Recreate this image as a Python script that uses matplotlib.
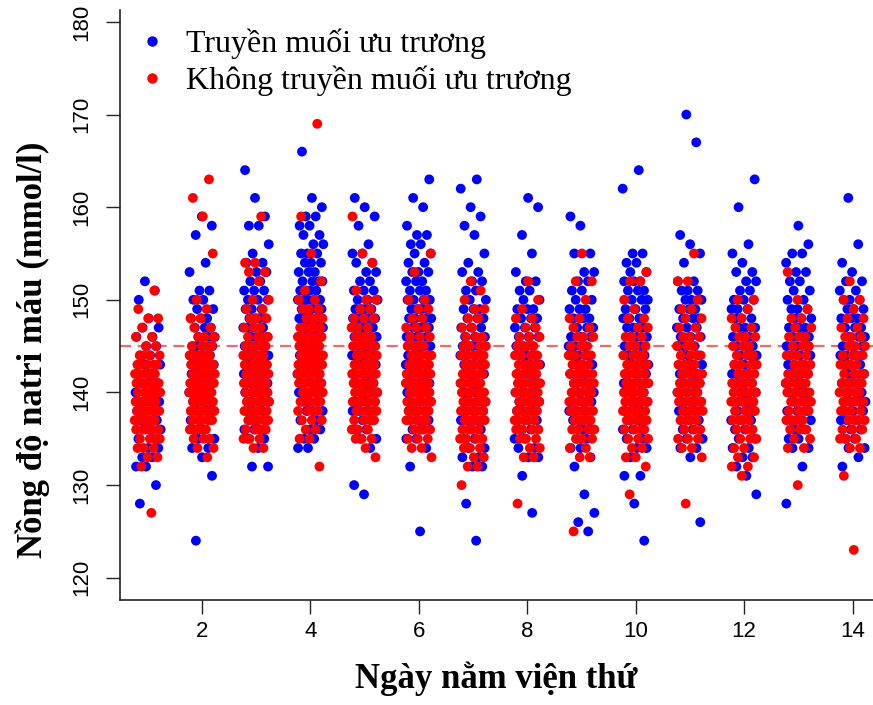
import numpy as np
import matplotlib
matplotlib.use("Agg")
import matplotlib.pyplot as plt
from matplotlib.lines import Line2D

# Serum sodium (mmol/l) by hospital day: {value: number of patients}
days = list(range(1, 15))

hypertonic = [
    {128:1,130:1,132:2,133:2,134:2,135:2,136:3,137:3,138:3,139:3,140:3,141:3,142:3,143:2,144:2,145:2,146:2,147:2,148:1,150:1,151:1,152:1},
    {124:1,131:1,133:1,134:2,135:2,136:2,137:3,138:3,139:3,140:3,141:3,142:3,143:3,144:4,145:4,146:3,147:3,148:3,149:2,150:2,151:2,153:1,154:1,157:1,158:1,159:1},
    {132:2,134:1,135:2,136:3,137:3,138:3,139:3,140:4,141:4,142:4,143:4,144:4,145:4,146:4,147:4,148:4,149:3,150:3,151:3,152:2,153:2,154:2,155:1,156:1,158:2,159:1,161:1,164:1},
    {134:2,135:2,136:2,137:2,138:3,139:3,140:3,141:3,142:3,143:4,144:4,145:4,146:5,147:5,148:5,149:5,150:5,151:4,152:4,153:3,154:3,155:3,156:2,157:2,158:2,159:2,160:1,161:1,166:1},
    {129:1,130:1,134:1,135:2,136:2,137:2,138:3,139:3,140:3,141:3,142:3,143:3,144:4,145:4,146:4,147:4,148:4,149:4,150:3,151:3,152:2,153:2,154:2,155:2,156:1,158:1,159:1,160:1,161:1},
    {125:1,132:1,134:1,135:2,136:2,137:2,138:3,139:3,140:3,141:3,142:3,143:3,144:4,145:4,146:4,147:4,148:4,149:4,150:4,151:3,152:3,153:3,154:2,155:2,156:2,157:2,158:1,160:1,161:1,163:1},
    {124:1,128:1,132:2,133:2,134:2,135:2,136:2,137:3,138:3,139:3,140:3,141:3,142:3,143:3,144:4,145:4,146:3,147:3,148:3,149:3,150:2,151:2,152:2,153:2,154:1,155:1,157:1,158:1,159:1,160:1,162:1,163:1},
    {127:1,131:1,133:2,134:2,135:2,136:2,137:2,138:3,139:3,140:3,141:3,142:3,143:3,144:3,145:3,146:3,147:3,148:3,149:3,150:2,151:2,152:2,153:1,155:1,157:1,160:1,161:1},
    {125:1,126:1,127:1,129:1,132:1,133:1,134:2,135:2,136:2,137:3,138:3,139:3,140:3,141:3,142:3,143:3,144:3,145:3,146:3,147:3,148:3,149:3,150:2,151:2,152:2,153:2,155:2,158:1,159:1},
    {124:1,128:1,131:2,133:1,134:2,135:2,136:2,137:3,138:3,139:3,140:3,141:3,142:3,143:3,144:3,145:3,146:3,147:3,148:3,149:3,150:3,151:3,152:3,153:2,154:2,155:2,162:1,164:1},
    {126:1,133:1,134:2,135:2,136:2,137:2,138:3,139:3,140:3,141:3,142:3,143:3,144:3,145:3,146:3,147:3,148:3,149:3,150:3,151:3,152:2,154:1,155:1,156:1,157:1,167:1,170:1},
    {129:1,131:1,132:1,133:2,134:2,135:2,136:2,137:3,138:3,139:3,140:3,141:3,142:3,143:3,144:3,145:3,146:3,147:3,148:3,149:3,150:3,151:2,152:2,153:2,154:1,155:1,156:1,160:1,163:1},
    {128:1,132:1,134:2,135:2,136:2,137:3,138:3,139:3,140:3,141:3,142:3,143:3,144:3,145:3,146:3,147:3,148:3,149:3,150:2,151:2,152:2,153:2,154:1,155:2,156:1,158:1},
    {132:1,133:1,134:2,135:2,136:2,137:3,138:3,139:3,140:3,141:3,142:3,143:3,144:3,145:3,146:3,147:3,148:3,149:3,150:3,151:2,152:2,153:1,154:1,156:1,161:1},
]

no_hypertonic = [
    {127:1,132:1,133:2,134:3,135:4,136:5,137:6,138:7,139:7,140:7,141:7,142:6,143:5,144:4,145:2,146:2,147:1,148:2,149:1,151:1},
    {133:1,134:2,135:3,136:4,137:5,138:6,139:7,140:8,141:8,142:8,143:7,144:6,145:4,146:3,147:2,148:2,149:1,150:1,155:1,159:1,161:1,163:1},
    {134:2,135:3,136:4,137:5,138:6,139:6,140:7,141:7,142:7,143:7,144:6,145:5,146:4,147:3,148:3,149:2,150:2,152:1,153:2,154:2,159:1},
    {132:1,135:2,136:2,137:3,138:4,139:5,140:6,141:7,142:7,143:8,144:8,145:7,146:6,147:5,148:4,149:3,150:2,151:1,152:1,155:1,159:1,169:1},
    {133:1,134:1,135:3,136:3,137:4,138:5,139:5,140:6,141:6,142:6,143:6,144:5,145:5,146:4,147:3,148:3,149:2,150:2,151:1,154:1,155:1,159:1},
    {133:1,134:2,135:3,136:4,137:5,138:6,139:6,140:7,141:7,142:7,143:6,144:5,145:4,146:3,147:3,148:2,149:2,150:2,153:1,155:1},
    {130:1,132:2,133:2,134:3,135:4,136:4,137:5,138:5,139:6,140:6,141:6,142:6,143:5,144:5,145:4,146:3,147:2,148:2,149:2,150:1,151:1,152:1},
    {128:1,133:2,134:2,135:3,136:4,137:5,138:5,139:6,140:6,141:6,142:5,143:5,144:4,145:4,146:3,147:2,148:2,149:1,150:1,152:1},
    {125:1,133:2,134:2,135:3,136:4,137:4,138:5,139:5,140:5,141:5,142:5,143:4,144:4,145:3,146:3,147:2,148:2,150:1,152:2,155:1},
    {129:1,132:1,133:2,134:2,135:3,136:4,137:5,138:5,139:6,140:6,141:6,142:5,143:5,144:4,145:3,146:3,147:2,148:2,149:1,150:1,152:2,153:1},
    {128:1,133:1,134:2,135:3,136:3,137:4,138:5,139:5,140:5,141:5,142:5,143:4,144:4,145:3,146:3,147:2,148:2,149:2,150:1,152:2,155:1},
    {131:1,132:2,133:2,134:2,135:3,136:3,137:4,138:4,139:5,140:5,141:5,142:4,143:4,144:3,145:3,146:3,147:2,148:2,149:1,150:2},
    {130:1,134:2,135:2,136:3,137:4,138:4,139:5,140:5,141:5,142:5,143:4,144:4,145:3,146:3,147:2,148:2,149:1,150:1,153:1},
    {123:1,131:1,134:2,135:3,136:3,137:4,138:4,139:5,140:5,141:5,142:4,143:4,144:4,145:3,146:3,147:2,148:2,149:1,150:2,152:1},
]

threshold = 145
xticks = [2, 4, 6, 8, 10, 12, 14]
yticks = [120, 130, 140, 150, 160, 170, 180]
series_labels = ["Truyền muối ưu trương", "Không truyền muối ưu trương"]
series_colors = ["#0000ff", "#ff0000"]

SERIF = ["Liberation Serif", "DejaVu Serif"]
SANS = ["Liberation Sans", "DejaVu Sans"]

GOLDEN = 0.6180339887


def strip_points(day, counts, phase):
    """Expand value counts into points spread evenly across the day's strip."""
    values = np.repeat(np.array(list(counts.keys()), dtype=float),
                       np.array(list(counts.values())))
    k = np.arange(len(values))
    offsets = ((k * GOLDEN + phase) % 1.0 - 0.5) * 0.48
    return day + offsets, values


fig = plt.figure(figsize=(8.73, 7.05), dpi=100)
ax = fig.add_axes([0.1375, 0.149, 0.862, 0.837])

for group, color, phase in ((hypertonic, series_colors[0], 0.13),
                            (no_hypertonic, series_colors[1], 0.57)):
    for day, counts in zip(days, group):
        xs, ys = strip_points(day, counts, phase + 0.07 * day)
        ax.scatter(xs, ys, s=50, color=color, edgecolors="none", zorder=3)

ax.axhline(threshold, color="#f06868", lw=1.6, ls=(0, (5, 3)), zorder=2)

ax.set_xlim(0.49, 14.37)
ax.set_ylim(117.6, 181.3)
ax.set_xticks(xticks)
ax.set_yticks(yticks)
ax.tick_params(axis="both", direction="out", length=10, width=1, color="#222222",
               labelsize=16)
ax.tick_params(axis="x", pad=5)
ax.tick_params(axis="y", pad=10)
for lab in ax.get_xticklabels():
    lab.set_fontfamily(SANS)
for lab in ax.get_yticklabels():
    lab.set_fontfamily(SANS)
    lab.set_rotation(90)
    lab.set_va("center")

for side in ("top", "right"):
    ax.spines[side].set_visible(False)
for side in ("left", "bottom"):
    ax.spines[side].set_linewidth(1.2)
    ax.spines[side].set_color("#222222")

ax.set_xlabel("Ngày nằm viện thứ", fontfamily=SERIF, fontweight="bold",
              fontsize=25, labelpad=14)
ax.set_ylabel("Nồng độ natri máu (mmol/l)", fontfamily=SERIF, fontweight="bold",
              fontsize=25)
ax.yaxis.set_label_coords(-0.093, 0.424)

handles = [Line2D([], [], ls="none", marker="o", markersize=7.5,
                  markerfacecolor=c, markeredgecolor="none") for c in series_colors]
ax.legend(handles, series_labels, loc="upper left", bbox_to_anchor=(0.0, 0.968),
          frameon=False, prop={"family": SERIF, "size": 23},
          handlelength=2.0, handletextpad=0.05, labelspacing=0.2,
          borderaxespad=0.0, borderpad=0.0)

fig.savefig("out.png", dpi=100, facecolor="white")
